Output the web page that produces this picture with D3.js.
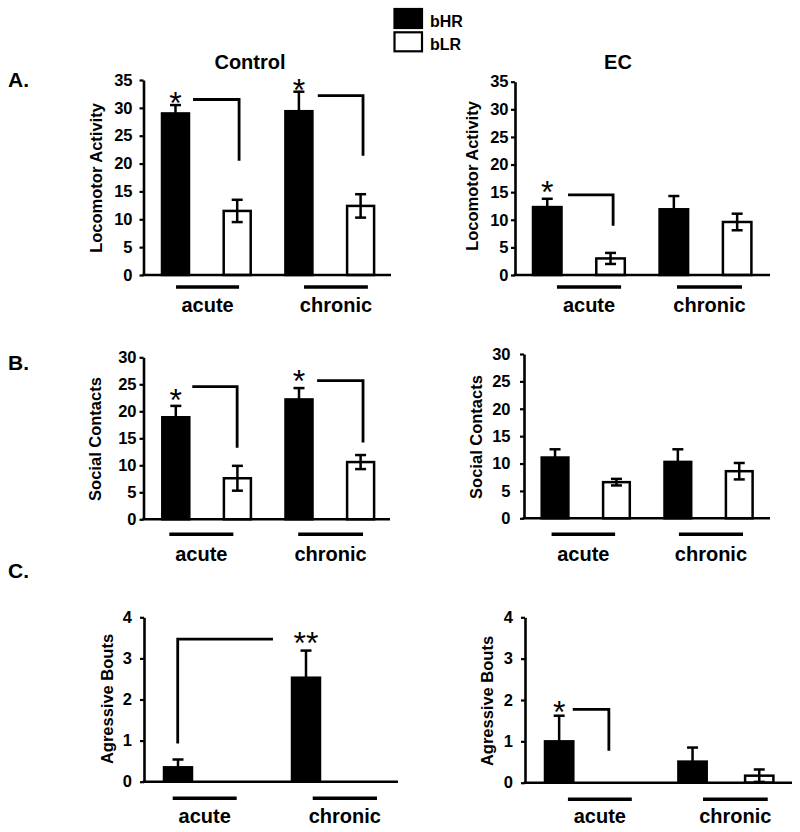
<!DOCTYPE html>
<html>
<head>
<meta charset="utf-8">
<script src="https://cdn.jsdelivr.net/npm/d3@7"></script>
<style>
  html, body { margin: 0; padding: 0; background: #fff; }
  svg { display: block; }
  text { font-family: "Liberation Sans", Arial, sans-serif; fill: #000; }
</style>
</head>
<body>
<svg id="chart" width="800" height="832"></svg>
<script>
// ---------------- DATA ----------------
const conditions = ["Control", "EC"];
const timepoints = ["acute", "chronic"];
const groups = ["bHR", "bLR"];
const panelLetters = ["A.", "B.", "C."];
const measures = ["Locomotor Activity", "Social Contacts", "Agressive Bouts"];

// order of values: acute-bHR, acute-bLR, chronic-bHR, chronic-bLR
const locoControl   = [29.0, 11.5, 29.4, 12.4];
const locoControlSE = [1.5, 2.0, 3.5, 2.1];
const locoEC        = [12.3, 3.0, 11.9, 9.6];
const locoECSE      = [1.5, 1.0, 2.4, 1.5];

const socialControl   = [18.9, 7.6, 22.2, 10.6];
const socialControlSE = [2.1, 2.3, 2.1, 1.3];
const socialEC        = [11.1, 6.6, 10.3, 8.6];
const socialECSE      = [1.5, 0.6, 2.3, 1.5];

const aggControl   = [0.35, 0, 2.53, 0];
const aggControlSE = [0.19, 0, 0.66, 0];
const aggEC        = [1.0, 0, 0.51, 0.17];
const aggECSE      = [0.62, 0, 0.34, 0.15];

const locoTicks   = [0, 5, 10, 15, 20, 25, 30, 35];
const socialTicks = [0, 5, 10, 15, 20, 25, 30];
const aggTicks    = [0, 1, 2, 3, 4];

// significance marks: [bar key, text, value level]
const starsLocoControl   = [["acute|bHR", "*", 32.3], ["chronic|bHR", "*", 34.6]];
const starsLocoEC        = [["acute|bHR", "*", 16.5]];
const starsSocialControl = [["acute|bHR", "*", 23.6], ["chronic|bHR", "*", 27.1]];
const starsSocialEC      = [];
const starsAggControl    = [["chronic|bHR", "**", 3.57]];
const starsAggEC         = [["acute|bHR", "*", 1.9]];

// brackets: list of polylines, points = [bar key, fraction of bar width, value]
const bracketsLocoControl = [
  [["acute|bHR", 1.15, 31.5], ["acute|bLR", 0.57, 31.5], ["acute|bLR", 0.57, 20.5]],
  [["chronic|bHR", 1.2, 32.2], ["chronic|bLR", 0.59, 32.2], ["chronic|bLR", 0.59, 21.4]]
];
const bracketsLocoEC = [
  [["acute|bHR", 1.23, 14.5], ["acute|bLR", 0.59, 14.5], ["acute|bLR", 0.59, 8.9]]
];
const bracketsSocialControl = [
  [["acute|bHR", 1.11, 24.56], ["acute|bLR", 0.49, 24.56], ["acute|bLR", 0.49, 13.26]],
  [["chronic|bHR", 1.17, 25.67], ["chronic|bLR", 0.59, 25.67], ["chronic|bLR", 0.59, 14.2]]
];
const bracketsSocialEC = [];
const bracketsAggControl = [
  [["acute|bHR", 0.49, 0.93], ["acute|bHR", 0.49, 3.47], ["chronic|bHR", -0.68, 3.47]]
];
const bracketsAggEC = [
  [["acute|bHR", 0.98, 1.775], ["acute|bLR", -0.1, 1.775], ["acute|bLR", -0.1, 0.774]]
];

// ---------------- LAYOUT ----------------
const panels = [
  { row: 0, col: 0, means: locoControl, se: locoControlSE, ticks: locoTicks, yMax: 35,
    stars: starsLocoControl, brackets: bracketsLocoControl,
    axisX: 143.5, y0: 275, yTop: 80, barFirst: 162, step: 61.7, bw: 27, xEnd: 391, tickPad: 7,
    ylabX: 102, ylabY: 178, ulFrac: [[0.52, 0.57], [0.69, 0.77]], ulDy: 12, labDy: 37 },
  { row: 0, col: 1, means: locoEC, se: locoECSE, ticks: locoTicks, yMax: 35,
    stars: starsLocoEC, brackets: bracketsLocoEC,
    axisX: 515, y0: 275, yTop: 81.7, barFirst: 533, step: 63.3, bw: 28.5, xEnd: 770, tickPad: 2.5,
    ylabX: 478, ylabY: 176, ulFrac: [[0.84, 0.87], [0.61, 0.67]], ulDy: 12, labDy: 37 },
  { row: 1, col: 0, means: socialControl, se: socialControlSE, ticks: socialTicks, yMax: 30,
    stars: starsSocialControl, brackets: bracketsSocialControl,
    axisX: 143.5, y0: 519.3, yTop: 357.3, barFirst: 162.3, step: 61.6, bw: 27, xEnd: 390, tickPad: 3,
    ylabX: 101, ylabY: 439, ulFrac: [[0.26, 0.35], [0.47, 0.59]], ulDy: 15, labDy: 42 },
  { row: 1, col: 1, means: socialEC, se: socialECSE, ticks: socialTicks, yMax: 30,
    stars: starsSocialEC, brackets: bracketsSocialEC,
    axisX: 524, y0: 518.3, yTop: 354, barFirst: 541.7, step: 61.4, bw: 26.7, xEnd: 770, tickPad: 9.5,
    ylabX: 482, ylabY: 437, ulFrac: [[0.37, 0.45], [0.54, 0.64]], ulDy: 16, labDy: 43 },
  { row: 2, col: 0, means: aggControl, se: aggControlSE, ticks: aggTicks, yMax: 4,
    stars: starsAggControl, brackets: bracketsAggControl,
    axisX: 144, y0: 781.7, yTop: 617.3, barFirst: 164, step: 64, bw: 28, xEnd: 398, tickPad: 8,
    ylabX: 112.5, ylabY: 699, ulFrac: [[0.31, 0.31], [0.74, 0.75]], ulDy: 16.6, labDy: 41.6 },
  { row: 2, col: 1, means: aggEC, se: aggECSE, ticks: aggTicks, yMax: 4,
    stars: starsAggEC, brackets: bracketsAggEC,
    axisX: 525, y0: 782.7, yTop: 617.3, barFirst: 545, step: 66.7, bw: 28.3, xEnd: 792, tickPad: 8,
    ylabX: 493, ylabY: 701, ulFrac: [[0.81, 0.71], [0.87, 0.80]], ulDy: 16.6, labDy: 40.5 }
];

const svg = d3.select("#chart");
const FONT_BOLD = "bold";

// Legend
const legend = svg.append("g");
groups.forEach((gname, i) => {
  legend.append("rect")
    .attr("x", 394.5).attr("y", 9 + i * 23.3)
    .attr("width", 27.5).attr("height", 19)
    .attr("fill", gname === "bHR" ? "#000" : "#fff")
    .attr("stroke", "#000").attr("stroke-width", 2.2);
  legend.append("text")
    .attr("x", 430).attr("y", 26.5 + i * 23.3)
    .attr("font-size", 16).attr("font-weight", FONT_BOLD)
    .text(gname);
});

// Condition titles
const titleX = [250, 618];
conditions.forEach((c, i) => {
  svg.append("text").attr("x", titleX[i]).attr("y", 68.5)
    .attr("text-anchor", "middle").attr("font-size", 20).attr("font-weight", FONT_BOLD)
    .text(c);
});

// Row letters
const letterY = [86.5, 370, 578];
panelLetters.forEach((l, i) => {
  svg.append("text").attr("x", 8).attr("y", letterY[i])
    .attr("font-size", 21).attr("font-weight", FONT_BOLD).text(l);
});

// Panels
panels.forEach(p => {
  const g = svg.append("g");
  const keys = [];
  timepoints.forEach(t => groups.forEach(gr => keys.push(t + "|" + gr)));
  const rows = keys.map((k, i) => ({ key: k, tp: k.split("|")[0], grp: k.split("|")[1], v: p.means[i], e: p.se[i] }));

  const y = d3.scaleLinear().domain([0, p.yMax]).range([p.y0, p.yTop]);
  const pi = 1 - p.bw / p.step;
  const start = p.barFirst - (p.step - p.bw) / 2;
  const x = d3.scaleBand().domain(keys).range([start, start + 4 * p.step])
    .paddingInner(pi).paddingOuter(pi / 2);
  const bw = x.bandwidth();

  // bars
  g.selectAll("rect.bar").data(rows.filter(d => d.v > 0)).enter().append("rect")
    .attr("class", "bar")
    .attr("x", d => x(d.key)).attr("y", d => y(d.v))
    .attr("width", bw).attr("height", d => y(0) - y(d.v))
    .attr("fill", d => d.grp === "bHR" ? "#000" : "#fff")
    .attr("stroke", "#000").attr("stroke-width", 2.5);

  // error bars
  const eb = g.selectAll("g.err").data(rows.filter(d => d.e > 0)).enter().append("g").attr("class", "err");
  const capW = 11;
  eb.append("line")
    .attr("x1", d => x(d.key) + bw / 2).attr("x2", d => x(d.key) + bw / 2)
    .attr("y1", d => y(Math.max(0, d.v - d.e))).attr("y2", d => y(d.v + d.e))
    .attr("stroke", "#000").attr("stroke-width", 2.5);
  eb.append("line")
    .attr("x1", d => x(d.key) + bw / 2 - capW / 2).attr("x2", d => x(d.key) + bw / 2 + capW / 2)
    .attr("y1", d => y(d.v + d.e)).attr("y2", d => y(d.v + d.e))
    .attr("stroke", "#000").attr("stroke-width", 2.5);
  eb.filter(d => d.v - d.e > 0).append("line")
    .attr("x1", d => x(d.key) + bw / 2 - capW / 2).attr("x2", d => x(d.key) + bw / 2 + capW / 2)
    .attr("y1", d => y(d.v - d.e)).attr("y2", d => y(d.v - d.e))
    .attr("stroke", "#000").attr("stroke-width", 2.5);

  // y axis
  const ax = g.append("g").attr("transform", `translate(${p.axisX},0)`)
    .call(d3.axisLeft(y).tickValues(p.ticks).tickSize(4).tickSizeOuter(0).tickPadding(p.tickPad).tickFormat(d3.format("d")));
  ax.select(".domain").attr("stroke", "#000").attr("stroke-width", 2.6);
  ax.selectAll(".tick line").attr("stroke", "#000").attr("stroke-width", 2.2);
  ax.selectAll(".tick text").attr("font-family", "Liberation Sans, Arial, sans-serif")
    .attr("font-size", 16.5).attr("font-weight", FONT_BOLD).attr("fill", "#000");

  // x axis baseline
  g.append("line").attr("x1", p.axisX - 1.3).attr("x2", p.xEnd)
    .attr("y1", y(0)).attr("y2", y(0))
    .attr("stroke", "#000").attr("stroke-width", 2.6);

  // y label
  g.append("text")
    .attr("transform", `translate(${p.ylabX},${p.ylabY}) rotate(-90)`)
    .attr("text-anchor", "middle").attr("font-size", 16.5).attr("font-weight", FONT_BOLD)
    .text(measures[p.row]);

  // group underline + labels
  timepoints.forEach((t, i) => {
    const x1 = x(t + "|bHR") + p.ulFrac[i][0] * bw;
    const x2 = x(t + "|bLR") + p.ulFrac[i][1] * bw;
    g.append("line").attr("x1", x1).attr("x2", x2)
      .attr("y1", y(0) + p.ulDy).attr("y2", y(0) + p.ulDy)
      .attr("stroke", "#000").attr("stroke-width", 3.6);
    g.append("text").attr("x", (x1 + x2) / 2).attr("y", y(0) + p.labDy)
      .attr("text-anchor", "middle").attr("font-size", 20).attr("font-weight", FONT_BOLD)
      .text(t);
  });

  // brackets
  const line = d3.line().x(d => x(d[0]) + d[1] * bw).y(d => y(d[2]));
  p.brackets.forEach(b => {
    g.append("path").attr("d", line(b)).attr("fill", "none")
      .attr("stroke", "#000").attr("stroke-width", 2.8).attr("stroke-linejoin", "miter");
  });

  // stars
  p.stars.forEach(s => {
    g.append("text").attr("x", x(s[0]) + bw / 2).attr("y", y(s[2]) + 19)
      .attr("text-anchor", "middle").attr("font-size", 32)
      .text(s[1]);
  });
});
</script>
</body>
</html>
